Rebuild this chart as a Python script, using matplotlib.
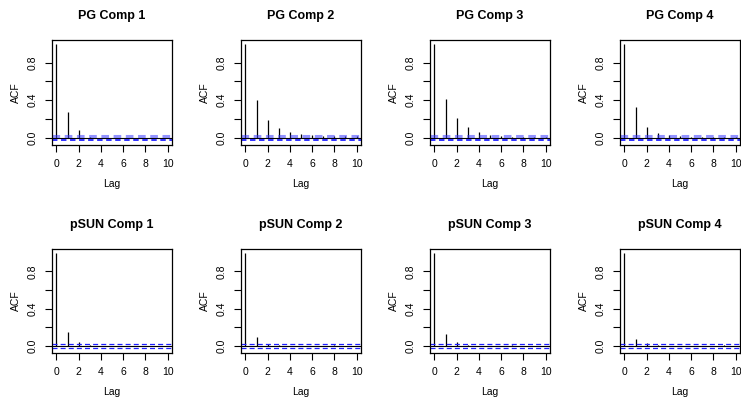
import matplotlib
matplotlib.use("Agg")
import matplotlib.pyplot as plt

plt.rcParams['font.family'] = ['Liberation Sans', 'DejaVu Sans']

lags = [0, 1, 2, 3, 4, 5, 6, 7, 8, 9, 10]

titles = ["PG Comp 1", "PG Comp 2", "PG Comp 3", "PG Comp 4",
          "pSUN Comp 1", "pSUN Comp 2", "pSUN Comp 3", "pSUN Comp 4"]

acf_pg1 = [1.0, 0.28, 0.08, 0.01, 0.0, 0.0, 0.0, -0.01, 0.0, 0.0, 0.0]
acf_pg2 = [1.0, 0.40, 0.19, 0.11, 0.06, 0.04, 0.03, 0.02, 0.02, 0.02, 0.02]
acf_pg3 = [1.0, 0.41, 0.21, 0.12, 0.06, 0.03, 0.02, 0.01, 0.01, 0.01, 0.01]
acf_pg4 = [1.0, 0.33, 0.12, 0.05, 0.03, 0.02, 0.01, 0.01, 0.01, 0.01, 0.01]
acf_sun1 = [1.0, 0.15, 0.04, 0.01, 0.0, 0.0, 0.0, 0.0, 0.0, 0.0, 0.0]
acf_sun2 = [1.0, 0.10, 0.02, 0.01, 0.0, 0.0, 0.0, 0.0, 0.01, 0.0, 0.0]
acf_sun3 = [1.0, 0.13, 0.04, 0.01, 0.0, 0.0, 0.0, 0.01, 0.0, 0.0, 0.0]
acf_sun4 = [1.0, 0.07, 0.03, 0.01, 0.0, 0.0, 0.0, 0.0, 0.0, 0.01, 0.0]

all_acf = [acf_pg1, acf_pg2, acf_pg3, acf_pg4,
           acf_sun1, acf_sun2, acf_sun3, acf_sun4]

# confidence bound (+/- 1.96/sqrt(n))
clim = 0.022

fig = plt.figure(figsize=(7.41, 3.99), dpi=100)

lefts = [52, 241, 430, 620]
rows = [(40, 145), (249, 353)]
W, H = 741.0, 399.0

for i in range(8):
    r, c = divmod(i, 4)
    top, bot = rows[r]
    ax = fig.add_axes([lefts[c] / W, 1 - bot / H, 120 / W, (bot - top) / H])
    acf = all_acf[i]
    ax.vlines(lags, 0, acf, color='black', lw=0.9)
    ax.axhline(0, color='black', lw=0.8)
    if r == 0:
        ax.axhline(clim, color='#3b3bff', lw=2.2, ls=(0, (2.5, 1.5)), alpha=0.55)
        ax.axhline(-clim, color='#1f1fff', lw=1.3, ls=(0, (3, 2)))
    else:
        ax.axhline(clim, color='#1f1fff', lw=0.9, ls=(0, (4, 2.5)))
        ax.axhline(-clim, color='#1f1fff', lw=0.9, ls=(0, (4, 2.5)))
    ax.set_xlim(-0.4, 10.4)
    ax.set_ylim(-0.075, 1.04)
    ax.set_xticks([0, 2, 4, 6, 8, 10])
    ax.set_yticks([0.0, 0.2, 0.4, 0.6, 0.8])
    ax.set_yticklabels(["0.0", "", "0.4", "", "0.8"], rotation=90, va='center')
    ax.tick_params(direction='out', length=5, width=0.8, labelsize=7.5, pad=5)
    for s in ax.spines.values():
        s.set_linewidth(0.9)
    ax.set_title(titles[i], fontsize=9, fontweight='bold', pad=15)
    ax.set_xlabel("Lag", fontsize=7.5, labelpad=7)
    ax.set_ylabel("ACF", fontsize=7.5, labelpad=5)

fig.savefig("out.png", dpi=100)
